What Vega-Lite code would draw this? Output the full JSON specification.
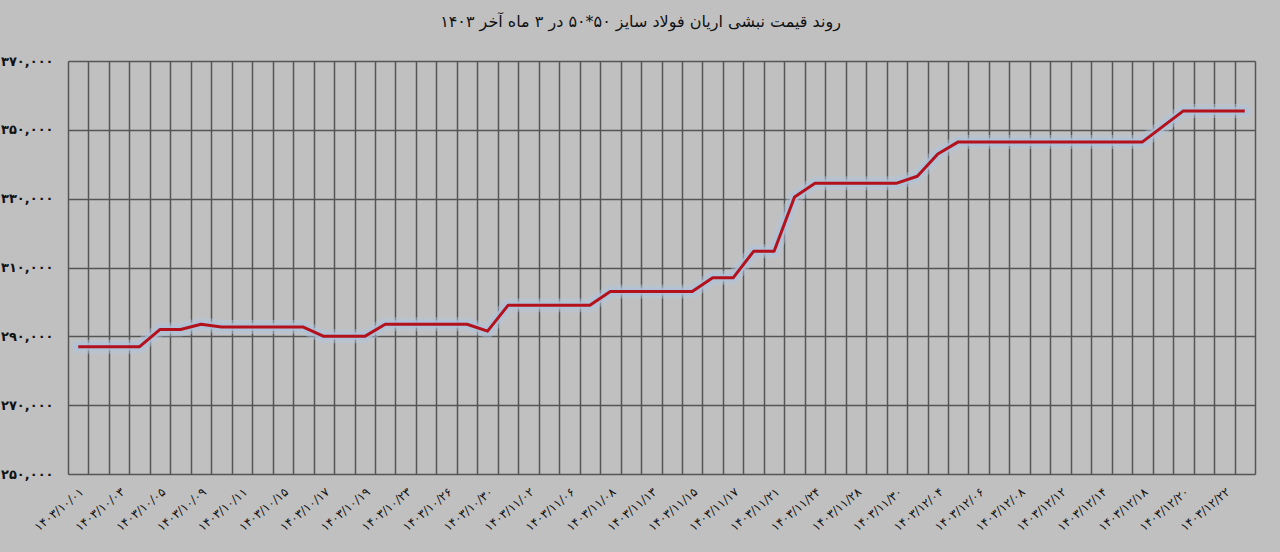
{
  "$schema": "https://vega.github.io/schema/vega-lite/v6.json",
  "width": 1187,
  "height": 413,
  "autosize": {"type": "none"},
  "padding": {"left": 68, "top": 61, "right": 25, "bottom": 78},
  "background": "#c0c0c0",
  "title": {
    "text": "روند قیمت نبشی اریان فولاد سایز ۵۰*۵۰  در ۳ ماه آخر ۱۴۰۳",
    "font": "DejaVu Sans",
    "fontSize": 16,
    "fontWeight": "normal",
    "color": "#111111",
    "anchor": "middle",
    "dx": -21,
    "offset": 25
  },
  "config": {
    "view": {"stroke": null},
    "axis": {"gridColor": "#555555", "gridWidth": 1.5, "gridOpacity": 1}
  },
  "data": {
    "values": [
      {"d": "۱۴۰۳/۱۰/۰۱", "v": 287000},
      {"d": "۱۴۰۳/۱۰/۰۲", "v": 287000},
      {"d": "۱۴۰۳/۱۰/۰۳", "v": 287000},
      {"d": "۱۴۰۳/۱۰/۰۴", "v": 287000},
      {"d": "۱۴۰۳/۱۰/۰۵", "v": 292000},
      {"d": "۱۴۰۳/۱۰/۰۸", "v": 292000},
      {"d": "۱۴۰۳/۱۰/۰۹", "v": 293500},
      {"d": "۱۴۰۳/۱۰/۱۰", "v": 292700},
      {"d": "۱۴۰۳/۱۰/۱۱", "v": 292700},
      {"d": "۱۴۰۳/۱۰/۱۲", "v": 292700},
      {"d": "۱۴۰۳/۱۰/۱۵", "v": 292700},
      {"d": "۱۴۰۳/۱۰/۱۶", "v": 292700},
      {"d": "۱۴۰۳/۱۰/۱۷", "v": 290000},
      {"d": "۱۴۰۳/۱۰/۱۸", "v": 290000},
      {"d": "۱۴۰۳/۱۰/۱۹", "v": 290000},
      {"d": "۱۴۰۳/۱۰/۲۲", "v": 293500},
      {"d": "۱۴۰۳/۱۰/۲۳", "v": 293500},
      {"d": "۱۴۰۳/۱۰/۲۴", "v": 293500},
      {"d": "۱۴۰۳/۱۰/۲۶", "v": 293500},
      {"d": "۱۴۰۳/۱۰/۲۹", "v": 293500},
      {"d": "۱۴۰۳/۱۰/۳۰", "v": 291500},
      {"d": "۱۴۰۳/۱۱/۰۱", "v": 299000},
      {"d": "۱۴۰۳/۱۱/۰۲", "v": 299000},
      {"d": "۱۴۰۳/۱۱/۰۳", "v": 299000},
      {"d": "۱۴۰۳/۱۱/۰۶", "v": 299000},
      {"d": "۱۴۰۳/۱۱/۰۷", "v": 299000},
      {"d": "۱۴۰۳/۱۱/۰۸", "v": 303000},
      {"d": "۱۴۰۳/۱۱/۱۰", "v": 303000},
      {"d": "۱۴۰۳/۱۱/۱۳", "v": 303000},
      {"d": "۱۴۰۳/۱۱/۱۴", "v": 303000},
      {"d": "۱۴۰۳/۱۱/۱۵", "v": 303000},
      {"d": "۱۴۰۳/۱۱/۱۶", "v": 307000},
      {"d": "۱۴۰۳/۱۱/۱۷", "v": 307000},
      {"d": "۱۴۰۳/۱۱/۲۰", "v": 314700},
      {"d": "۱۴۰۳/۱۱/۲۱", "v": 314700},
      {"d": "۱۴۰۳/۱۱/۲۳", "v": 330500},
      {"d": "۱۴۰۳/۱۱/۲۴", "v": 334500},
      {"d": "۱۴۰۳/۱۱/۲۷", "v": 334500},
      {"d": "۱۴۰۳/۱۱/۲۸", "v": 334500},
      {"d": "۱۴۰۳/۱۱/۲۹", "v": 334500},
      {"d": "۱۴۰۳/۱۱/۳۰", "v": 334500},
      {"d": "۱۴۰۳/۱۲/۰۱", "v": 336500},
      {"d": "۱۴۰۳/۱۲/۰۴", "v": 343000},
      {"d": "۱۴۰۳/۱۲/۰۵", "v": 346500},
      {"d": "۱۴۰۳/۱۲/۰۶", "v": 346500},
      {"d": "۱۴۰۳/۱۲/۰۷", "v": 346500},
      {"d": "۱۴۰۳/۱۲/۰۸", "v": 346500},
      {"d": "۱۴۰۳/۱۲/۱۱", "v": 346500},
      {"d": "۱۴۰۳/۱۲/۱۲", "v": 346500},
      {"d": "۱۴۰۳/۱۲/۱۳", "v": 346500},
      {"d": "۱۴۰۳/۱۲/۱۴", "v": 346500},
      {"d": "۱۴۰۳/۱۲/۱۵", "v": 346500},
      {"d": "۱۴۰۳/۱۲/۱۸", "v": 346500},
      {"d": "۱۴۰۳/۱۲/۱۹", "v": 351000},
      {"d": "۱۴۰۳/۱۲/۲۰", "v": 355500},
      {"d": "۱۴۰۳/۱۲/۲۱", "v": 355500},
      {"d": "۱۴۰۳/۱۲/۲۲", "v": 355500},
      {"d": "۱۴۰۳/۱۲/۲۵", "v": 355500}
    ]
  },
  "encoding": {
    "x": {
      "field": "d",
      "type": "ordinal",
      "sort": null,
      "bandPosition": 0.5,
      "scale": {"type": "band", "paddingInner": 0, "paddingOuter": 0},
      "axis": {
        "title": null,
        "domain": false,
        "ticks": false,
        "grid": true,
        "tickBand": "extent",
        "labelAngle": -40,
        "labelFont": "DejaVu Sans",
        "labelFontSize": 12,
        "labelColor": "#111111",
        "labelPadding": 12,
        "labelOverlap": false,
        "labelExpr": "indexof(['۱۴۰۳/۱۰/۰۱','۱۴۰۳/۱۰/۰۳','۱۴۰۳/۱۰/۰۵','۱۴۰۳/۱۰/۰۹','۱۴۰۳/۱۰/۱۱','۱۴۰۳/۱۰/۱۵','۱۴۰۳/۱۰/۱۷','۱۴۰۳/۱۰/۱۹','۱۴۰۳/۱۰/۲۳','۱۴۰۳/۱۰/۲۶','۱۴۰۳/۱۰/۳۰','۱۴۰۳/۱۱/۰۲','۱۴۰۳/۱۱/۰۶','۱۴۰۳/۱۱/۰۸','۱۴۰۳/۱۱/۱۳','۱۴۰۳/۱۱/۱۵','۱۴۰۳/۱۱/۱۷','۱۴۰۳/۱۱/۲۱','۱۴۰۳/۱۱/۲۴','۱۴۰۳/۱۱/۲۸','۱۴۰۳/۱۱/۳۰','۱۴۰۳/۱۲/۰۴','۱۴۰۳/۱۲/۰۶','۱۴۰۳/۱۲/۰۸','۱۴۰۳/۱۲/۱۲','۱۴۰۳/۱۲/۱۴','۱۴۰۳/۱۲/۱۸','۱۴۰۳/۱۲/۲۰','۱۴۰۳/۱۲/۲۲'], datum.value) >= 0 ? datum.value : ''"
      }
    },
    "y": {
      "field": "v",
      "type": "quantitative",
      "scale": {"domain": [250000, 370000], "nice": false, "zero": false},
      "axis": {
        "title": null,
        "domain": false,
        "ticks": false,
        "grid": true,
        "values": [250000, 270000, 290000, 310000, 330000, 350000, 370000],
        "labelFont": "DejaVu Sans",
        "labelFontSize": 13,
        "labelFontWeight": "bold",
        "labelColor": "#111111",
        "labelPadding": 15,
        "labelExpr": "replace(replace(replace(replace(replace(replace(replace(replace(replace(replace(format(datum.value, ','), regexp('0','g'), '۰'), regexp('1','g'), '۱'), regexp('2','g'), '۲'), regexp('3','g'), '۳'), regexp('4','g'), '۴'), regexp('5','g'), '۵'), regexp('6','g'), '۶'), regexp('7','g'), '۷'), regexp('8','g'), '۸'), regexp('9','g'), '۹')"
      }
    }
  },
  "layer": [
    {"mark": {"type": "line", "color": "#b4c6dc", "strokeWidth": 14, "opacity": 0.45, "strokeJoin": "round", "strokeCap": "round"}},
    {"mark": {"type": "line", "color": "#aec2da", "strokeWidth": 8, "opacity": 0.75, "strokeJoin": "round", "strokeCap": "round"}},
    {"mark": {"type": "line", "color": "#b3121c", "strokeWidth": 3, "strokeJoin": "round"}}
  ]
}
